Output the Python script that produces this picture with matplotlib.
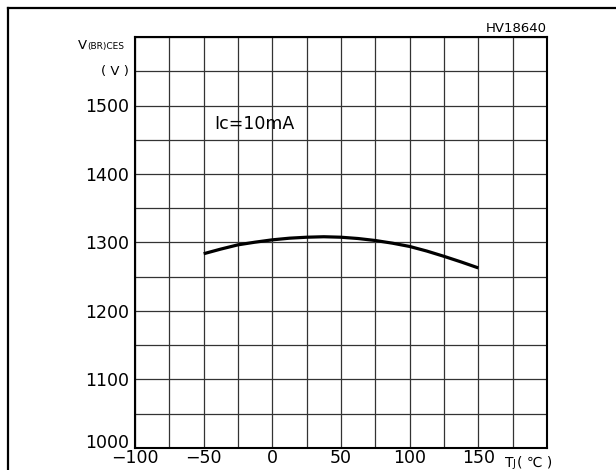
import numpy as np
import matplotlib.pyplot as plt
from matplotlib.lines import Line2D

# data (Tj in degC, V(BR)CES in V)
tj = [-50, -37.5, -25, -12.5, 0, 12.5, 25, 37.5, 50, 62.5, 75, 87.5, 100, 112.5, 125, 137.5, 150]
vbr = [1283.6, 1290.4, 1296.6, 1300.5, 1303.9, 1306.3, 1307.7, 1308.4, 1307.7, 1305.8, 1302.9,
       1299.0, 1294.2, 1287.5, 1279.8, 1271.6, 1262.9]

x_ticks = np.arange(-100, 201, 25)
x_labels = ['−100', '−50', '0', '50', '100', '150']
y_ticks = np.arange(1000, 1601, 50)
y_labels = ['1000', '1100', '1200', '1300', '1400', '1500']

W, H = 616, 470
fig = plt.figure(figsize=(W / 100, H / 100), dpi=100)


def px(x, y):
    # pixel position (from top left) to figure fraction
    return x / W, 1 - y / H


def every_other(labels, n):
    # label every second tick, blank the rest
    out = []
    for i in range(n):
        out.append(labels[i // 2] if i % 2 == 0 and i // 2 < len(labels) else '')
    return out


# outer frame (top and left only)
fig.add_artist(Line2D([7.5 / W, 1], [1 - 7.5 / H] * 2, color='black', lw=1.6))
fig.add_artist(Line2D([7.5 / W] * 2, [0, 1 - 7.5 / H], color='black', lw=1.6))

ax = fig.add_axes([135 / W, 22 / H, 412 / W, 411 / H])
ax.set_xlim(-100, 200)
ax.set_ylim(1000, 1600)

ax.set_xticks(x_ticks)
ax.set_xticklabels(every_other(x_labels, len(x_ticks)))
ax.set_yticks(y_ticks)
ax.set_yticklabels(every_other(y_labels, len(y_ticks)))
ax.tick_params(axis='both', length=0, labelsize=12.5, colors='black')
ax.tick_params(axis='y', pad=4)
ax.tick_params(axis='x', pad=1)
# the 1000 label sits on the corner
ax.get_yticklabels()[0].set_verticalalignment('baseline')

ax.grid(True, color='#333333', lw=0.9)
for s in ax.spines.values():
    s.set_linewidth(1.5)

ax.plot(tj, vbr, color='black', lw=2.3, solid_capstyle='butt')

ax.text(-42, 1473, 'Ic=10mA', fontsize=12.5, va='center', ha='left')

# axis captions
fig.text(*px(87, 49), 'V', fontsize=9.5, ha='right', va='baseline')
fig.text(*px(87, 49), '(BR)CES', fontsize=6.5, ha='left', va='baseline')
fig.text(*px(129, 72), '( V )', fontsize=9.5, ha='right', va='center')
fig.text(*px(505, 467), 'T', fontsize=10, ha='left', va='baseline')
fig.text(*px(512, 467), 'J', fontsize=7, ha='left', va='baseline')
fig.text(*px(517, 467), '( ℃ )', fontsize=10, ha='left', va='baseline')
fig.text(*px(547, 28), 'HV18640', fontsize=9.5, ha='right', va='center')

fig.savefig('out.png', dpi=100)
